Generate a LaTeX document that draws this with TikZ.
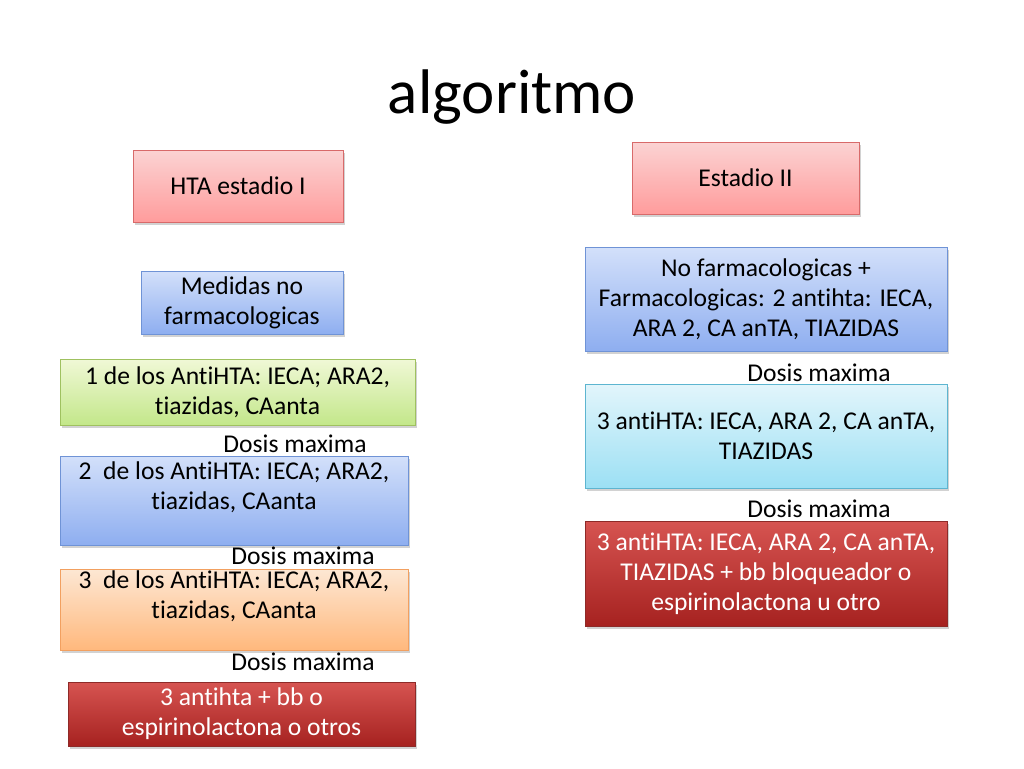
\documentclass[tikz,border=0pt]{standalone}
\usepackage{fontspec}
\setmainfont{Carlito}[RawFeature={-liga;-clig;-calt;-dlig;-rlig;-ccmp}]
\usepackage{xcolor}
\usetikzlibrary{positioning, shadows}

\definecolor{pinktop}{HTML}{FBD3D3}
\definecolor{pinkbot}{HTML}{FF9C9C}
\definecolor{pinkline}{HTML}{D86A6A}
\definecolor{bluetop}{HTML}{D3E0FA}
\definecolor{bluebot}{HTML}{8EAEF0}
\definecolor{blueline}{HTML}{6F93D6}
\definecolor{greentop}{HTML}{F0F8D6}
\definecolor{greenbot}{HTML}{C3E78A}
\definecolor{greenline}{HTML}{9FC160}
\definecolor{orangetop}{HTML}{FDE7D3}
\definecolor{orangebot}{HTML}{FFB87C}
\definecolor{orangeline}{HTML}{F2A060}
\definecolor{cyantop}{HTML}{E2F5FB}
\definecolor{cyanbot}{HTML}{9CE0F4}
\definecolor{cyanline}{HTML}{5DB5D0}
\definecolor{redtop}{HTML}{D65451}
\definecolor{redbot}{HTML}{A62220}
\definecolor{redline}{HTML}{8E2A28}

\begin{document}
\begin{tikzpicture}[x=1pt, y=-1pt, every node/.style={font=\fontsize{25.6}{30}\selectfont},
    box/.style={draw, line width=0.8pt, align=center, inner sep=0pt,
      drop shadow={shadow xshift=1.5pt, shadow yshift=-2.5pt, opacity=0.35}},
    pinkbox/.style={box, draw=pinkline, top color=pinktop, bottom color=pinkbot},
    bluebox/.style={box, draw=blueline, top color=bluetop, bottom color=bluebot},
    greenbox/.style={box, draw=greenline, top color=greentop, bottom color=greenbot},
    orangebox/.style={box, draw=orangeline, top color=orangetop, bottom color=orangebot},
    cyanbox/.style={box, draw=cyanline, top color=cyantop, bottom color=cyanbot},
    redbox/.style={box, draw=redline, top color=redtop, bottom color=redbot, text=white},
    dosis/.style={inner sep=0pt}]
  \useasboundingbox[fill=white] (0,0) rectangle (1024,768);

  \node[font=\fontsize{63}{70}\selectfont] (titulo) at (512,97) {algoritmo};

  % estadio I
  \node[pinkbox, minimum width=210, minimum height=72] (hta) at (238,186) {HTA estadio I};
  \node[bluebox, minimum width=202, minimum height=63] (medidas) at (242,302.5) {Medidas no\\farmacologicas};
  \node[greenbox, minimum width=355, minimum height=66] (uno) at (237.5,392) {1 de los AntiHTA: IECA; ARA2,\\tiazidas, CAanta};
  \node[bluebox, minimum width=348, minimum height=89] (dos) at (234,500.5) {2~ de los AntiHTA: IECA; ARA2,\\tiazidas, CAanta\\\mbox{}};
  \node[orangebox, minimum width=348, minimum height=81] (tres) at (234,610) {3~ de los AntiHTA: IECA; ARA2,\\tiazidas, CAanta\\\mbox{}};
  \node[redbox, minimum width=347, minimum height=64] (cuatro) at (241.5,714) {3 antihta + bb o\\espirinolactona o otros};
  \node[dosis] (dosisA) at (295,444) {Dosis maxima};
  \node[dosis] (dosisB) at (303,556) {Dosis maxima};
  \node[dosis] (dosisC) at (303,662) {Dosis maxima};

  % estadio II
  \node[pinkbox, minimum width=227, minimum height=72] (est) at (745.5,178) {Estadio II};
  \node[bluebox, minimum width=362, minimum height=104] (nofarm) at (766,299) {No farmacologicas +\\Farmacologicas: 2 antihta: IECA,\\ARA 2, CA anTA, TIAZIDAS};
  \node[cyanbox, minimum width=362, minimum height=104] (tresA) at (766,436) {3 antiHTA: IECA, ARA 2, CA anTA,\\TIAZIDAS};
  \node[redbox, minimum width=362, minimum height=105] (tresB) at (766,573.5) {3 antiHTA: IECA, ARA 2, CA anTA,\\TIAZIDAS + bb bloqueador o\\espirinolactona u otro};
  \node[dosis] (dosisD) at (819,373) {Dosis maxima};
  \node[dosis] (dosisE) at (819,509) {Dosis maxima};
\end{tikzpicture}
\end{document}
